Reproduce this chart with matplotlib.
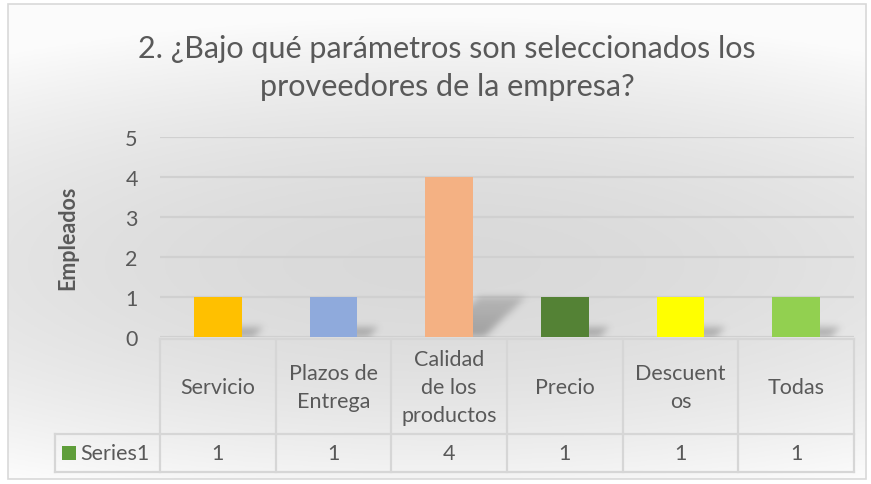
import numpy as np
import matplotlib
matplotlib.use("Agg")
import matplotlib.pyplot as plt
from matplotlib.patches import Rectangle
from matplotlib.transforms import blended_transform_factory

plt.rcParams["font.family"] = ["Lato", "DejaVu Sans"]

TITLE = "2. ¿Bajo qué parámetros son seleccionados los\nproveedores de la empresa?"
CATEGORIES = ["Servicio", "Plazos de\nEntrega", "Calidad\nde los\nproductos", "Precio", "Descuent\nos", "Todas"]
VALUES = [1, 1, 4, 1, 1, 1]
BAR_COLORS = ["#FFC000", "#8FAADC", "#F4B183", "#548235", "#FFFF00", "#92D050"]
SERIES_NAME = "Series1"
Y_LABEL = "Empleados"
Y_TICKS = [0, 1, 2, 3, 4, 5]

TEXT = "#595959"
GRID = "#d0d0d0"
LINE = "#d6d6d6"

W, H = 871, 485
fig = plt.figure(figsize=(W / 100, H / 100), dpi=100)


def fx(px):
    return px / W


def fy(py):
    return 1 - py / H


def blur(a, sigma):
    # separable gaussian blur, sigma in grid cells
    k = np.arange(-3 * sigma, 3 * sigma + 1)
    g = np.exp(-k ** 2 / (2 * sigma ** 2))
    g /= g.sum()
    a = np.apply_along_axis(lambda r: np.convolve(r, g, mode="same"), 1, a)
    a = np.apply_along_axis(lambda c: np.convolve(c, g, mode="same"), 0, a)
    return a


# background: soft gray gradient inside a light border
bg = fig.add_axes([0, 0, 1, 1])
bg.set_xlim(0, W)
bg.set_ylim(H, 0)
bg.axis("off")
xx, yy = np.meshgrid(np.linspace(0, W, 300), np.linspace(0, H, 200))
r = np.sqrt(((xx - 440) / 900) ** 2 + ((yy - 265) / 270) ** 2)
shade = 0.852 + 0.15 * np.clip(r, 0, 1) ** 1.8
shade = np.clip(shade, 0, 0.985)
img = np.dstack([shade, shade, shade])
bg.imshow(img, extent=[8, 866, 480, 5], aspect="auto", zorder=0)
bg.add_patch(Rectangle((8, 5), 858, 475, fill=False, ec="#d9d9d9", lw=1.2, zorder=1))

fig.text(fx(447), fy(68), TITLE, ha="center", va="center", fontsize=22,
         color=TEXT, linespacing=1.42)

# plot area
left, right, top, bottom = 160, 854, 138, 338
ax = fig.add_axes([fx(left), fy(bottom), fx(right - left), (bottom - top) / H])
ax.patch.set_alpha(0)
n = len(CATEGORIES)
x = np.arange(n)
for s in ax.spines.values():
    s.set_visible(False)
ax.set_yticks(Y_TICKS)
ax.set_xticks([])
ax.tick_params(axis="y", length=0, labelsize=15.5, labelcolor=TEXT, pad=16)
ax.grid(axis="y", color=GRID, lw=1.6)
ax.set_axisbelow(True)
ax.set_ylabel(Y_LABEL, fontsize=15.5, fontweight="bold", color=TEXT, labelpad=34)

bar_w = 0.41

# blurred perspective shadows behind the bars
nx, ny = right - left, bottom - top
gx = np.linspace(-0.5, n - 0.5, nx)
gy = np.linspace(0, 5, ny)
GX, GY = np.meshgrid(gx, gy)
mask = np.zeros_like(GX)
for xi, v in zip(x, VALUES):
    hy = 0.25 * v
    t = np.clip(GY / hy, 0, 1)
    lo = xi - bar_w / 2 + 0.1 + 0.36 * GY
    hi = xi + bar_w / 2 + 0.1 + 0.36 * GY
    inside = (GY <= hy) & (GX >= lo) & (GX <= hi)
    mask = np.maximum(mask, inside * (1 - 0.4 * t))
mask = blur(mask, 3.5)
sh = np.zeros((ny, nx, 4))
sh[..., :3] = 0.3
sh[..., 3] = 0.42 * mask
ax.imshow(sh, extent=[-0.5, n - 0.5, 0, 5], origin="lower", aspect="auto",
          zorder=2, interpolation="bilinear")
ax.set_xlim(-0.5, n - 0.5)
ax.set_ylim(0, 5)

ax.bar(x, VALUES, width=bar_w, color=BAR_COLORS, zorder=3)

# data table under the plot
tr = blended_transform_factory(ax.transData, ax.transAxes)
y_top = -0.012
y_mid = -(435 - bottom) / (bottom - top)
y_bot = -(473 - bottom) / (bottom - top)
leg_left = -0.5 - (left - 55) / ((right - left) / n)
kw = dict(color=LINE, lw=1.6, transform=tr, clip_on=False)
ax.plot([-0.5, n - 0.5], [y_top, y_top], **kw)
ax.plot([leg_left, n - 0.5], [y_mid, y_mid], **kw)
ax.plot([leg_left, n - 0.5], [y_bot, y_bot], **kw)
ax.plot([leg_left, leg_left], [y_mid, y_bot], **kw)
for i in range(n + 1):
    ax.plot([i - 0.5, i - 0.5], [y_top, y_bot], **kw)

for xi, cat, v in zip(x, CATEGORIES, VALUES):
    ax.text(xi, (y_top + y_mid) / 2, cat, transform=tr, ha="center", va="center",
            fontsize=15.5, color=TEXT, linespacing=1.5, clip_on=False)
    ax.text(xi, (y_mid + y_bot) / 2, str(v), transform=tr, ha="center", va="center",
            fontsize=15.5, color=TEXT, clip_on=False)

key_x = leg_left + 0.06
ax.add_patch(Rectangle((key_x, (y_mid + y_bot) / 2 - 0.035), 0.12, 0.07, transform=tr,
                       fc="#5f9e3a", ec="none", clip_on=False))
ax.text(key_x + 0.16, (y_mid + y_bot) / 2, SERIES_NAME, transform=tr, ha="left",
        va="center", fontsize=15.5, color=TEXT, clip_on=False)

fig.savefig("out.png", dpi=100)
